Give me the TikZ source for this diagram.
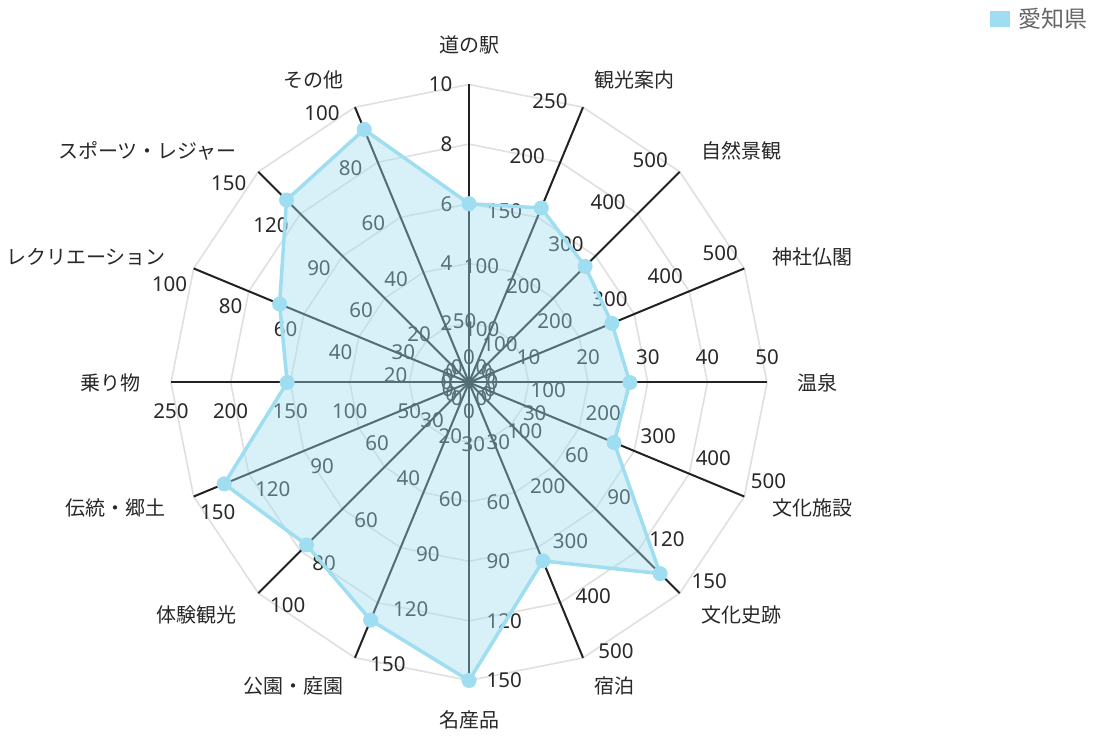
\documentclass[tikz,border=0pt]{standalone}
\usepackage{fontspec}
\setmainfont{Noto Sans}
\newfontfamily\jp{Noto Sans CJK JP}
\definecolor{ringgray}{RGB}{224,224,224}
\definecolor{axisdark}{RGB}{34,34,34}
\definecolor{txt}{RGB}{40,40,40}
\definecolor{series}{RGB}{158,222,240}
\definecolor{legtxt}{RGB}{102,102,102}
\begin{document}
\begin{tikzpicture}[x=1pt,y=1pt,
  ticklbl/.style={font=\fontsize{20.5}{24}\selectfont, text=txt, inner sep=0pt},
  axlbl/.style={font=\jp\fontsize{20}{24}\selectfont, text=txt, inner sep=0pt},
  ring/.style={draw=ringgray, line width=1.6pt},
  spoke/.style={draw=axisdark, line width=2pt},
  serieslin/.style={draw=series, line width=3.5pt, line join=round},
  seriesfill/.style={fill=series, fill opacity=0.4},
  dot/.style={circle, fill=series, inner sep=0pt, minimum size=15pt},
  legbox/.style={fill=series, inner sep=0pt, minimum width=20pt, minimum height=16pt},
  legtext/.style={font=\jp\fontsize{23}{27}\selectfont, text=legtxt, inner sep=0pt, anchor=west}]
\useasboundingbox (0,0) rectangle (1096,739);
\fill[white] (0,0) rectangle (1096,739);
\coordinate (O) at (469,356.5);
% rings
\foreach \k in {1,...,5}{
  \pgfmathsetmacro{\r}{59.6*\k}
  \draw[ring] (469,{356.5+\r}) \foreach \i in {1,...,15}{ -- ({469+\r*cos(90-22.5*\i)},{356.5+\r*sin(90-22.5*\i)}) } -- cycle;
}
% spokes, tick labels, axis names
\foreach \i/\s/\ta/\td/\na/\nm/\v in {
  0/2/east/16.5/south/道の駅/0.6,
  1/50/east/16.5/west/観光案内/0.634,
  2/100/east/16.5/west/自然景観/0.551,
  3/100/east/16.5/west/神社仏閣/0.519,
  4/10/south/18/west/温泉/0.54,
  5/100/west/16.5/west/文化施設/0.527,
  6/30/west/16.5/west/文化史跡/0.907,
  7/100/west/16.5/west/宿泊/0.648,
  8/30/west/17.5/north/名産品/1.0,
  9/30/west/16.5/east/公園・庭園/0.863,
  10/20/west/16.5/east/体験観光/0.771,
  11/30/west/16.5/east/伝統・郷土/0.889,
  12/50/north/20.5/east/乗り物/0.61,
  13/20/east/16.5/east/レクリエーション/0.688,
  14/30/east/16.5/east/スポーツ・レジャー/0.866,
  15/20/east/16.5/east/その他/0.919}{
  \pgfmathsetmacro{\ph}{90-22.5*\i}
  \coordinate (a\i) at ({469+298*cos(\ph)},{356.5+298*sin(\ph)});
  \coordinate (v\i) at ({469+298*\v*cos(\ph)},{356.5+298*\v*sin(\ph)});
  \draw[spoke] (O) -- (a\i);
  \foreach \k in {0,...,5}{
    \pgfmathtruncatemacro{\val}{\k*\s}
    \pgfmathsetmacro{\px}{469+59.6*\k*cos(\ph)+\td*cos(\ph+90)}
    \pgfmathsetmacro{\py}{356.5+59.6*\k*sin(\ph)+\td*sin(\ph+90)}
    \node[ticklbl, anchor=\ta] (t\i-\k) at (\px,\py) {\val};
  }
  \node[axlbl, anchor=\na] (n\i) at ({469+328*cos(\ph)},{356.5+328*sin(\ph)}) {\nm};
}
% series
\fill[seriesfill] (v0) \foreach \i in {1,...,15}{ -- (v\i)} -- cycle;
\draw[serieslin] (v0) \foreach \i in {1,...,15}{ -- (v\i)} -- cycle;
\foreach \i in {0,...,15}{
  \node[dot] (d\i) at (v\i) {};
}
% legend
\node[legbox] (lb) at (1000,719.5) {};
\node[legtext] (lt) at (1018.5,720) {愛知県};
\end{tikzpicture}
\end{document}
